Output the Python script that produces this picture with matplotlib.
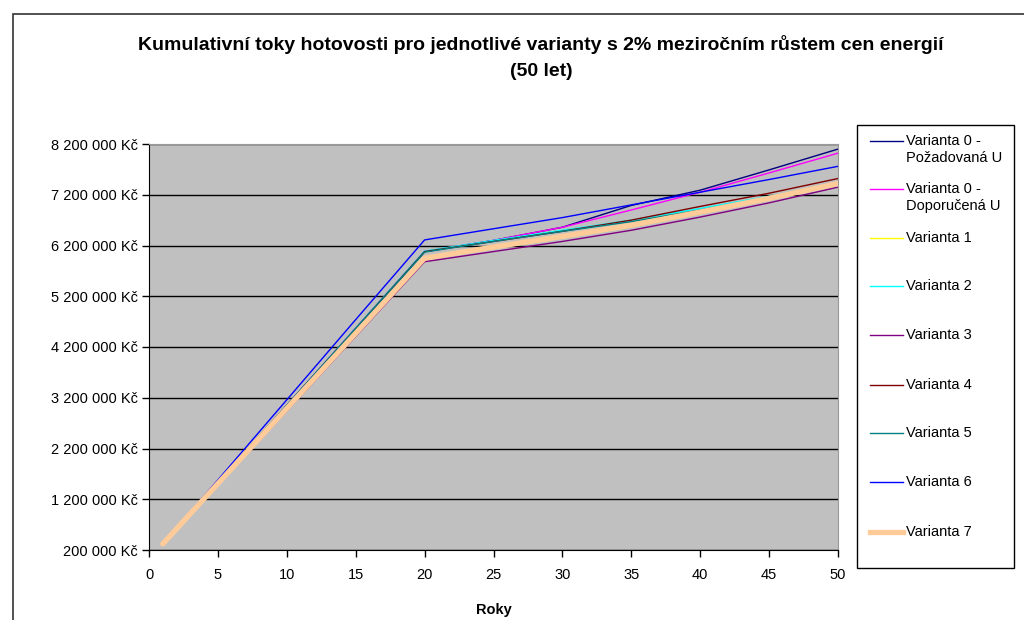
import numpy as np
import matplotlib.pyplot as plt
from matplotlib.lines import Line2D
from matplotlib.patches import Rectangle
from matplotlib.ticker import FuncFormatter

plt.rcParams["font.family"] = ["Liberation Sans", "DejaVu Sans"]

# ---------------------------------------------------------------------------
# DATA (cumulative cash flow, Kč)
# ---------------------------------------------------------------------------
years = [1, 5, 10, 15, 20, 25, 30, 35, 40, 45, 50]

var0_pozadovana = [320000, 1530000, 3050000, 4570000, 6080000, 6300000, 6560000, 6990000, 7290000, 7690000, 8100000]
var0_doporucena = [320000, 1530000, 3050000, 4570000, 6080000, 6300000, 6560000, 6900000, 7250000, 7630000, 8020000]
var1 = [320000, 1500000, 2970000, 4440000, 5930000, 6140000, 6350000, 6570000, 6830000, 7100000, 7400000]
var2 = [320000, 1530000, 3050000, 4570000, 6090000, 6300000, 6500000, 6700000, 6930000, 7170000, 7440000]
var3 = [310000, 1480000, 2940000, 4410000, 5880000, 6080000, 6280000, 6500000, 6760000, 7040000, 7350000]
var4 = [320000, 1530000, 3050000, 4560000, 6080000, 6280000, 6480000, 6700000, 6970000, 7230000, 7520000]
var5 = [320000, 1530000, 3050000, 4560000, 6070000, 6280000, 6480000, 6670000, 6900000, 7150000, 7430000]
var6 = [320000, 1580000, 3160000, 4740000, 6310000, 6530000, 6750000, 7000000, 7250000, 7500000, 7760000]
var7 = [320000, 1510000, 2990000, 4470000, 5950000, 6170000, 6380000, 6600000, 6860000, 7130000, 7420000]

labels = ["Varianta 0 -\nPožadovaná U", "Varianta 0 -\nDoporučená U", "Varianta 1",
          "Varianta 2", "Varianta 3", "Varianta 4", "Varianta 5", "Varianta 6", "Varianta 7"]
series = [var0_pozadovana, var0_doporucena, var1, var2, var3, var4, var5, var6, var7]
colors = ["#000080", "#FF00FF", "#FFFF00", "#00FFFF", "#800080",
          "#800000", "#008080", "#0000FF", "#FFCC99"]
widths = [1.0, 1.0, 1.0, 1.0, 1.0, 1.0, 1.0, 1.0, 3.8]

yticks = np.arange(200000, 8200001, 1000000)
xticks = np.arange(0, 51, 5)


def kc_format(v, pos):
    return f"{int(round(v)):,} Kč".replace(",", " ")


# ---------------------------------------------------------------------------
# FIGURE
# ---------------------------------------------------------------------------
fig = plt.figure(figsize=(10.24, 6.2), dpi=100)
W, H = 1024, 620

# outer chart frame (runs off the right/bottom edge)
fig.add_artist(Rectangle((13 / W, -0.1), 1.1, 1 - 14 / H + 0.1, transform=fig.transFigure,
                         fill=False, edgecolor="#333333", linewidth=1.2))

ax = fig.add_axes([149 / W, 1 - 550 / H, (838 - 149) / W, (550 - 144) / H])
ax.set_facecolor("#C0C0C0")

for y, lab, c, lw in zip(series, labels, colors, widths):
    ax.plot(years, y, color=c, linewidth=lw, label=lab, solid_capstyle="round")

ax.set_xlim(0, 50)
ax.set_ylim(200000, 8200000)
ax.set_xticks(xticks)
ax.set_yticks(yticks)
ax.yaxis.set_major_formatter(FuncFormatter(kc_format))
ax.grid(axis="y", color="black", linewidth=1.0)
ax.set_axisbelow(True)
ax.tick_params(axis="both", direction="out", length=5, width=1, colors="black", labelsize=10.5)
ax.tick_params(axis="y", pad=3)
ax.tick_params(axis="x", pad=8)
for side in ["left", "bottom"]:
    ax.spines[side].set_color("black")
for side in ["top", "right"]:
    ax.spines[side].set_color("#999999")

ax.set_xlabel("Roky", fontsize=10.5, fontweight="bold", labelpad=15)

fig.text(541 / W, 1 - 45 / H, "Kumulativní toky hotovosti pro jednotlivé varianty s 2% meziročním růstem cen energií",
         ha="center", va="center", fontsize=14, fontweight="bold")
fig.text(541 / W, 1 - 72 / H, "(50 let)", ha="center", va="center", fontsize=14, fontweight="bold")

# legend drawn by hand to match the tall, evenly spaced box
fig.add_artist(Rectangle((857 / W, 1 - 568 / H), (1014 - 857) / W, (568 - 125) / H,
                         transform=fig.transFigure, fill=True, facecolor="white",
                         edgecolor="black", linewidth=1.0))
leg_y = [141, 189, 238, 286, 335, 385, 433, 482, 532]
for yy, lab, c, lw in zip(leg_y, labels, colors, widths):
    fig.add_artist(Line2D([870 / W, 903 / W], [1 - yy / H, 1 - yy / H], transform=fig.transFigure,
                          color=c, linewidth=lw))
    fig.text(906 / W, 1 - (yy - 7) / H, lab, ha="left", va="top", fontsize=10.5, linespacing=1.3)

fig.savefig("out.png", dpi=100)
